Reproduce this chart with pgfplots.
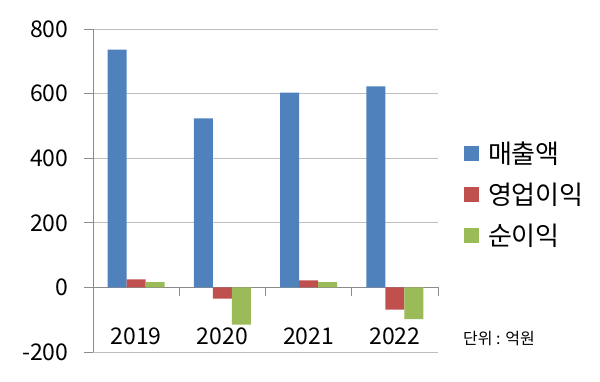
\documentclass[border=0pt]{standalone}
\usepackage{fontspec}
\setmainfont{Noto Sans CJK KR}
\usepackage{pgfplots}
\pgfplotsset{compat=1.18}
\definecolor{cBlue}{HTML}{4F81BD}
\definecolor{cRed}{HTML}{C0504D}
\definecolor{cGreen}{HTML}{9BBB59}
\definecolor{gridgray}{HTML}{BEBEBE}
\definecolor{axisgray}{HTML}{8C8C8C}
\begin{document}
\begin{tikzpicture}
\path[use as bounding box] (-93pt,-29pt) rectangle (507pt,352pt);
\begin{axis}[at={(0,0)}, anchor=south west, scale only axis, width=345pt, height=323pt,
 ybar=0pt, bar width=19pt,
 xmin=-0.5, xmax=3.5, ymin=-200, ymax=800, ytick={-200,0,200,400,600,800},
 axis y line*=left, axis x line*=middle,
 hide obscured x ticks=false, hide obscured y ticks=false,
 xtick={-0.5,0.5,1.5,2.5,3.5}, x tick label as interval, xticklabels={2019,2020,2021,2022},
 tick align=outside, major tick length=9pt,
 ymajorgrids, grid style={color=gridgray, line width=0.8pt},
 axis line style={color=axisgray, line width=0.8pt},
 tick style={color=axisgray, line width=0.8pt},
 /pgf/number format/assume math mode=true,
 tick label style={font=\fontsize{23}{27}\selectfont, text=black},
 xticklabel style={yshift=-28pt},
 yticklabel style={xshift=-12pt},
 legend style={at={(1.075,0.489)}, anchor=west, draw=none, fill=none,
   font=\fontsize{26}{30}\selectfont, row sep=12pt, inner sep=0pt,
   nodes={inner sep=3pt},
   /tikz/every odd column/.append style={column sep=6pt}},
 legend cell align=left,
 legend image code/.code={\fill[#1] (0pt,-7.5pt) rectangle (15pt,7.5pt);},
]
\addplot[fill=cBlue, draw=none] coordinates {(0,736) (1,523) (2,603) (3,622)};
\addplot[fill=cRed, draw=none] coordinates {(0,25) (1,-35) (2,22) (3,-69)};
\addplot[fill=cGreen, draw=none] coordinates {(0,16) (1,-115) (2,16) (3,-98)};
\legend{매출액,영업이익,순이익}
\end{axis}
\node[font=\fontsize{16}{18}\selectfont] at (406pt,13pt) {단위 : 억원};
\end{tikzpicture}
\end{document}
